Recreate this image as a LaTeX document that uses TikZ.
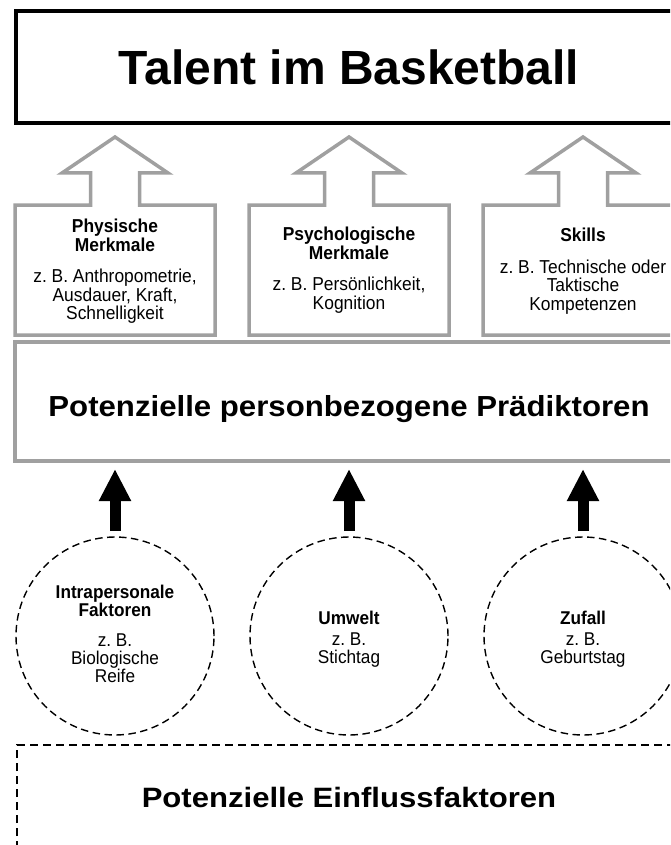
\documentclass[tikz,border=0pt]{standalone}
\usepackage{graphicx}
\usepackage{fontspec}
\setmainfont{Liberation Sans}
\newfontfamily\slimfont[FakeStretch=0.93]{Liberation Sans}
\usetikzlibrary{arrows.meta,calc}

\definecolor{framegray}{HTML}{A0A0A0}

\begin{document}
\begin{tikzpicture}[x=1pt,y=-1pt,
  every node/.style={inner sep=0pt, outer sep=0pt},
  titlebox/.style={draw=black, line width=3.5pt, rectangle,
    minimum width=666pt, minimum height=112pt,
    font=\fontsize{48}{56}\selectfont\bfseries},
  colbox/.style={rectangle, minimum width=200pt, minimum height=130pt},
  coltext/.style={align=center, font=\slimfont\fontsize{18.7}{18.5}\selectfont},
  hollow/.style={draw=framegray, line width=3.5pt, line join=miter},
  predbox/.style={draw=framegray, line width=4pt, rectangle,
    minimum width=668pt, minimum height=119pt},
  bandtext/.style={text depth=0pt, font=\bfseries},
  fatarrow/.style={draw=black, line width=11pt,
    -{Triangle[width=30pt,length=32pt]}},
  factor/.style={circle, draw=black, line width=1.4pt,
    dash pattern=on 7.5pt off 4.5pt, minimum size=198pt},
  factortext/.style={align=center, font=\slimfont\fontsize{18.5}{18}\selectfont},
  inflbox/.style={rectangle, minimum width=664pt, minimum height=104pt},
  inflline/.style={draw=black, line width=1.4pt, dash pattern=on 8pt off 5pt}
]
\useasboundingbox (0,0) rectangle (670,845);
\clip (0,0) rectangle (670,845);

% top: the goal
\node[titlebox] (talent) at (349,67) {Talent im Basketball};

% three groups of person-related predictors
\node[colbox] (phys) at (115,270) {};
\node[colbox] (psych) at (349,270) {};
\node[colbox] (skills) at (583,270) {};

\node[coltext] (phystext) at (115,271.5)
  {\textbf{Physische}\\\textbf{Merkmale}\\[13pt]
   z.\ B. Anthropometrie,\\Ausdauer, Kraft,\\Schnelligkeit};
\node[coltext] (psychtext) at (349,270)
  {\textbf{Psychologische}\\\textbf{Merkmale}\\[13pt]
   z.\ B. Persönlichkeit,\\Kognition};
\node[coltext] (skillstext) at (583,271)
  {\textbf{Skills}\\[13pt]
   z.\ B. Technische oder\\Taktische\\Kompetenzen};

% box outline merged with a hollow upward arrow
\foreach \b in {phys,psych,skills}{
  \draw[hollow] (\b.south west) -- (\b.north west)
    -- ($(\b.north)+(-24.5,0)$) -- ($(\b.north)+(-24.5,-32)$)
    -- ($(\b.north)+(-53,-32)$) -- ($(\b.north)+(0,-68)$)
    -- ($(\b.north)+(53,-32)$) -- ($(\b.north)+(24.5,-32)$)
    -- ($(\b.north)+(24.5,0)$) -- (\b.north east)
    -- (\b.south east) -- cycle;
}

% predictors band
\node[predbox] (praed) at (349,401.5) {};
\node[bandtext] (praedtext) at (349,406)
  {\fontsize{29}{34}\selectfont\scalebox{1.075}[1]{Potenzielle personbezogene Prädiktoren}};

% influencing factors
\node[factor] (intra) at (115,636) {};
\node[factor] (umwelt) at (349,636) {};
\node[factor] (zufall) at (583,636) {};

\node[factortext] (intratext) at (115,634)
  {\textbf{Intrapersonale}\\\textbf{Faktoren}\\[12pt]z.\ B.\\Biologische\\Reife};
\node[factortext] (umwelttext) at (349,639)
  {\textbf{Umwelt}\\[3pt]z.\ B.\\Stichtag};
\node[factortext] (zufalltext) at (583,639)
  {\textbf{Zufall}\\[3pt]z.\ B.\\Geburtstag};

\foreach \c in {intra,umwelt,zufall}{
  \draw[fatarrow] ($(\c.north)+(0,-6)$) -- ($(\c.north|-praed.south)+(0,8)$);
}

% bottom band
\node[inflbox] (einfluss) at (349,797) {};
\node[bandtext] (einflusstext) at (349,797)
  {\fontsize{28}{34}\selectfont\scalebox{1.11}[1]{Potenzielle Einflussfaktoren}};
\draw[inflline] (einfluss.south west) -- (einfluss.north west) -- (einfluss.north east);
\end{tikzpicture}
\end{document}
